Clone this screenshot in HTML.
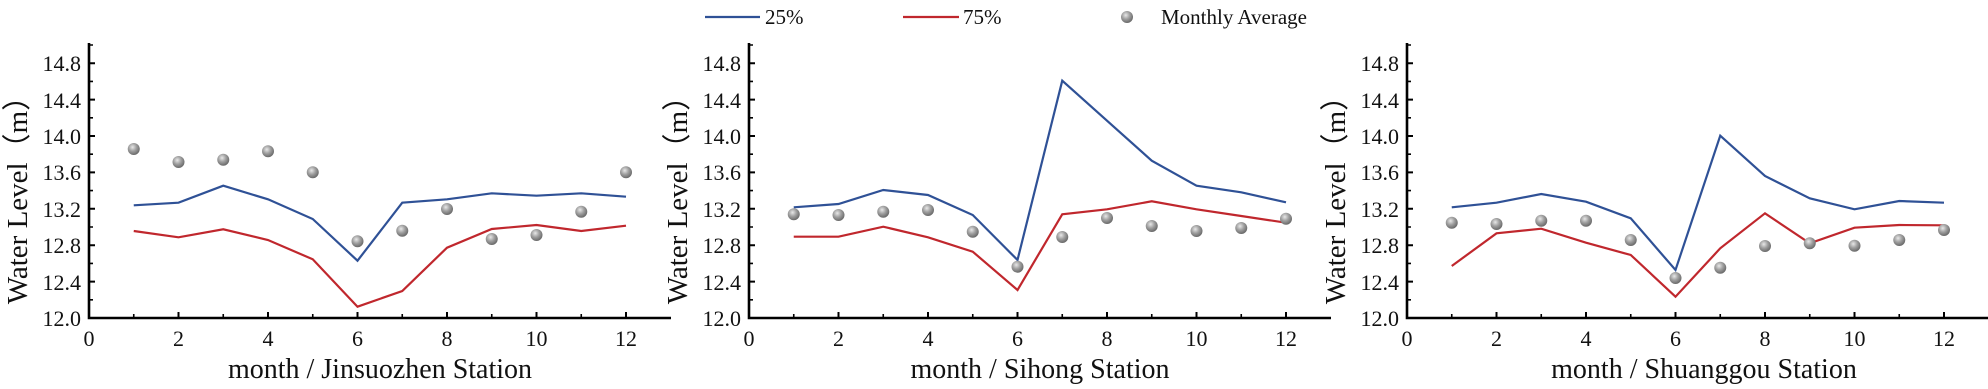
<!DOCTYPE html>
<html><head><meta charset="utf-8"><style>
html,body{margin:0;padding:0;background:#fff;}
svg{display:block;}
text{font-family:"Liberation Serif",serif;fill:#111;}
.tk{font-size:22px;}
.xl{font-size:28px;}
.yl{font-size:29px;}
.lg{font-size:21px;}
</style></head><body>
<svg width="1988" height="389" viewBox="0 0 1988 389" xmlns="http://www.w3.org/2000/svg">
<defs>
<radialGradient id="ball" cx="40%" cy="35%" r="65%">
<stop offset="0" stop-color="#e8e8e8"/><stop offset="0.5" stop-color="#a0a0a0"/><stop offset="1" stop-color="#6a6a6a"/>
</radialGradient>
<g id="axes" stroke="#000" fill="none">
<path d="M89 43 V318 H671" stroke-width="2.6"/>
<path d="M89 281.6h6M89 245.2h6M89 208.8h6M89 172.4h6M89 136h6M89 99.6h6M89 63.2h6" stroke-width="2"/>
<path d="M89 299.8h4M89 263.4h4M89 227h4M89 190.6h4M89 154.2h4M89 117.8h4M89 81.4h4M89 45h4" stroke-width="1.6"/>
<path d="M178.5 318v-6M268 318v-6M357.5 318v-6M447 318v-6M536.5 318v-6M626 318v-6" stroke-width="2"/>
<path d="M133.75 318v-4M223.25 318v-4M312.75 318v-4M402.25 318v-4M491.75 318v-4M581.25 318v-4" stroke-width="1.6"/>
</g>
</defs>

<!-- Legend -->
<line x1="705" y1="17" x2="760" y2="17" stroke="#2f5196" stroke-width="2.2"/>
<text class="lg" x="765" y="24">25%</text>
<line x1="903" y1="17" x2="959" y2="17" stroke="#c0272d" stroke-width="2.2"/>
<text class="lg" x="963" y="24">75%</text>
<circle cx="1127" cy="17" r="6" fill="url(#ball)"/>
<text class="lg" x="1161" y="24">Monthly Average</text>

<!-- Panel 1 -->
<g>
<use href="#axes"/>
<g class="tk" text-anchor="end">
<text x="81" y="326">12.0</text><text x="81" y="290">12.4</text><text x="81" y="253">12.8</text><text x="81" y="217">13.2</text><text x="81" y="180">13.6</text><text x="81" y="144">14.0</text><text x="81" y="108">14.4</text><text x="81" y="71">14.8</text>
</g>
<g class="tk" text-anchor="middle">
<text x="89" y="346">0</text><text x="178.5" y="346">2</text><text x="268" y="346">4</text><text x="357.5" y="346">6</text><text x="447" y="346">8</text><text x="536.5" y="346">10</text><text x="626" y="346">12</text>
</g>
<text class="xl" x="380" y="378" text-anchor="middle">month / Jinsuozhen Station</text>
<text class="yl" transform="translate(27,193) rotate(-90)" text-anchor="middle">Water Level（m）</text>
<polyline fill="none" stroke="#2f5196" stroke-width="2.2" points="133.75,205.3 178.5,202.7 223.25,185.7 268,199.3 312.75,219 357.5,260.7 402.25,202.7 447,199.3 491.75,193.3 536.5,195.7 581.25,193.3 626,196.7"/>
<polyline fill="none" stroke="#c0272d" stroke-width="2.2" points="133.75,231 178.5,237.3 223.25,229.3 268,240 312.75,259.3 357.5,306.7 402.25,291 447,247.7 491.75,229 536.5,225 581.25,231 626,225.7"/>
<g fill="url(#ball)">
<circle cx="133.75" cy="149" r="6"/><circle cx="178.5" cy="162" r="6"/><circle cx="223.25" cy="159.7" r="6"/><circle cx="268" cy="151.3" r="6"/><circle cx="312.75" cy="172.3" r="6"/><circle cx="357.5" cy="241.3" r="6"/><circle cx="402.25" cy="230.7" r="6"/><circle cx="447" cy="209" r="6"/><circle cx="491.75" cy="239" r="6"/><circle cx="536.5" cy="235" r="6"/><circle cx="581.25" cy="211.7" r="6"/><circle cx="626" cy="172.3" r="6"/>
</g>
</g>

<!-- Panel 2 -->
<g transform="translate(660,0)">
<use href="#axes"/>
<g class="tk" text-anchor="end">
<text x="81" y="326">12.0</text><text x="81" y="290">12.4</text><text x="81" y="253">12.8</text><text x="81" y="217">13.2</text><text x="81" y="180">13.6</text><text x="81" y="144">14.0</text><text x="81" y="108">14.4</text><text x="81" y="71">14.8</text>
</g>
<g class="tk" text-anchor="middle">
<text x="89" y="346">0</text><text x="178.5" y="346">2</text><text x="268" y="346">4</text><text x="357.5" y="346">6</text><text x="447" y="346">8</text><text x="536.5" y="346">10</text><text x="626" y="346">12</text>
</g>
<text class="xl" x="380" y="378" text-anchor="middle">month / Sihong Station</text>
<text class="yl" transform="translate(27,193) rotate(-90)" text-anchor="middle">Water Level（m）</text>
<polyline fill="none" stroke="#2f5196" stroke-width="2.2" points="133.75,207.3 178.5,204 223.25,190 268,195 312.75,215 357.5,260 402.25,80.7 447,120.7 491.75,160.7 536.5,185.7 581.25,192.3 626,202.3"/>
<polyline fill="none" stroke="#c0272d" stroke-width="2.2" points="133.75,236.7 178.5,236.7 223.25,226.7 268,237.3 312.75,251.7 357.5,290 402.25,214.3 447,209.3 491.75,201.3 536.5,209.3 581.25,216 626,222.7"/>
<g fill="url(#ball)">
<circle cx="133.75" cy="214.3" r="6"/><circle cx="178.5" cy="215" r="6"/><circle cx="223.25" cy="211.7" r="6"/><circle cx="268" cy="210" r="6"/><circle cx="312.75" cy="231.7" r="6"/><circle cx="357.5" cy="266.7" r="6"/><circle cx="402.25" cy="237" r="6"/><circle cx="447" cy="218" r="6"/><circle cx="491.75" cy="226" r="6"/><circle cx="536.5" cy="231" r="6"/><circle cx="581.25" cy="228" r="6"/><circle cx="626" cy="218.7" r="6"/>
</g>
</g>

<!-- Panel 3 -->
<g transform="translate(1318,0)">
<use href="#axes"/>
<g class="tk" text-anchor="end">
<text x="81" y="326">12.0</text><text x="81" y="290">12.4</text><text x="81" y="253">12.8</text><text x="81" y="217">13.2</text><text x="81" y="180">13.6</text><text x="81" y="144">14.0</text><text x="81" y="108">14.4</text><text x="81" y="71">14.8</text>
</g>
<g class="tk" text-anchor="middle">
<text x="89" y="346">0</text><text x="178.5" y="346">2</text><text x="268" y="346">4</text><text x="357.5" y="346">6</text><text x="447" y="346">8</text><text x="536.5" y="346">10</text><text x="626" y="346">12</text>
</g>
<text class="xl" x="386" y="378" text-anchor="middle">month / Shuanggou Station</text>
<text class="yl" transform="translate(27,193) rotate(-90)" text-anchor="middle">Water Level（m）</text>
<polyline fill="none" stroke="#2f5196" stroke-width="2.2" points="133.75,207.3 178.5,202.7 223.25,194 268,201.7 312.75,218.3 357.5,270 402.25,135.7 447,176 491.75,198.3 536.5,209.3 581.25,201 626,202.7"/>
<polyline fill="none" stroke="#c0272d" stroke-width="2.2" points="133.75,266 178.5,233.3 223.25,228.7 268,242.7 312.75,255 357.5,296.7 402.25,248.3 447,213.3 491.75,243.3 536.5,227.7 581.25,225 626,225.3"/>
<g fill="url(#ball)">
<circle cx="133.75" cy="222.7" r="6"/><circle cx="178.5" cy="224" r="6"/><circle cx="223.25" cy="220.7" r="6"/><circle cx="268" cy="220.7" r="6"/><circle cx="312.75" cy="240" r="6"/><circle cx="357.5" cy="278" r="6"/><circle cx="402.25" cy="267.7" r="6"/><circle cx="447" cy="246" r="6"/><circle cx="491.75" cy="243.3" r="6"/><circle cx="536.5" cy="245.7" r="6"/><circle cx="581.25" cy="240" r="6"/><circle cx="626" cy="230" r="6"/>
</g>
</g>
</svg>
</body></html>
